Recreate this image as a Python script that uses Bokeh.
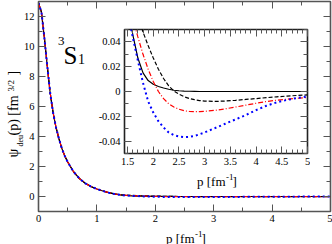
import numpy as np
from bokeh.plotting import figure
from bokeh.models import Range1d, LinearAxis, Label, FixedTicker, CustomJSTickFormatter
from bokeh.embed import file_html
from bokeh.resources import INLINE

# ---------------- data ----------------
p = [0, 0.05, 0.1, 0.15, 0.2, 0.25, 0.3, 0.35, 0.4, 0.45, 0.5, 0.6, 0.7, 0.8, 0.9,
     1.0, 1.1, 1.2, 1.3, 1.4, 1.5, 1.6, 1.7, 1.8, 1.9, 2.0, 2.1, 2.2, 2.3, 2.4, 2.5,
     2.6, 2.7, 2.8, 2.9, 3.0, 3.2, 3.4, 3.6, 3.8, 4.0, 4.2, 4.4, 4.6, 4.8, 5.0]

psi_solid = [12.9, 12.3, 10.6, 8.7, 6.9, 5.6, 4.6, 3.85, 3.2, 2.7, 2.3, 1.65, 1.2, 0.88, 0.66,
             0.5, 0.37, 0.26, 0.17, 0.11, 0.072, 0.046, 0.027, 0.015, 0.0088, 0.0058, 0.004,
             0.0028, 0.0018, 0.001, 0.0006, 0.0003, 0.0002, 0.0001, 0.0, 0.0, 0.0, 0.0, 0.0,
             0.0, 0.0, 0.0, 0.0, 0.0, 0.0, 0.0]

psi_dashed = [12.9, 12.3, 10.6, 8.7, 6.9, 5.6, 4.6, 3.85, 3.2, 2.7, 2.3, 1.65, 1.2, 0.88, 0.66,
              0.5, 0.37, 0.26, 0.17, 0.11, 0.09, 0.078, 0.062, 0.048, 0.037, 0.027, 0.018,
              0.0105, 0.0045, 0.0005, -0.0022, -0.0042, -0.0056, -0.0066, -0.0073, -0.0077,
              -0.008, -0.0077, -0.0071, -0.0064, -0.0057, -0.005, -0.0043, -0.0037, -0.0032,
              -0.0027]

psi_dashdot = [12.9, 12.3, 10.6, 8.7, 6.9, 5.6, 4.6, 3.85, 3.2, 2.7, 2.3, 1.65, 1.2, 0.88, 0.66,
               0.5, 0.37, 0.26, 0.17, 0.11, 0.08, 0.059, 0.044, 0.03, 0.018, 0.008, 0.0,
               -0.0058, -0.0099, -0.0125, -0.0143, -0.0155, -0.0161, -0.0163, -0.0162, -0.016,
               -0.0152, -0.014, -0.0125, -0.011, -0.0095, -0.0081, -0.007, -0.0062, -0.0055,
               -0.0048]

psi_dotted = [12.9, 12.3, 10.6, 8.7, 6.9, 5.6, 4.6, 3.85, 3.2, 2.7, 2.3, 1.65, 1.2, 0.88, 0.66,
              0.5, 0.37, 0.26, 0.17, 0.11, 0.064, 0.044, 0.025, 0.007, -0.008, -0.017, -0.024,
              -0.029, -0.033, -0.0352, -0.0363, -0.0368, -0.0366, -0.0358, -0.0345, -0.033,
              -0.0295, -0.026, -0.0225, -0.019, -0.015, -0.0115, -0.0088, -0.0068, -0.0052,
              -0.004]

main_xticks = [0, 1, 2, 3, 4, 5]
main_yticks = [0, 2, 4, 6, 8, 10, 12]
inset_xticks = [1.5, 2, 2.5, 3, 3.5, 4, 4.5, 5]
inset_yticks = [-0.04, -0.02, 0, 0.02, 0.04]

SERIF = "Liberation Serif"
FRAME = "#555555"

series = [
    (psi_solid, dict(line_color="black", line_width=1.2)),
    (psi_dashed, dict(line_color="black", line_width=1.2, line_dash="4 2")),
    (psi_dashdot, dict(line_color="#ff0000", line_width=1.2, line_dash="5 2 1 2")),
    (psi_dotted, dict(line_color="#0000ff", line_width=2, line_dash="2 3")),
]

fmt = CustomJSTickFormatter(code="return Number(tick.toFixed(3)).toString();")
blank = CustomJSTickFormatter(code="return '';")


def style_axes(fig, xt, xminor, yt, yminor, fsize, standoff_x, standoff_y):
    for ax, ticks, minor, loc in [(fig.xaxis[0], xt, xminor, "x"), (fig.yaxis[0], yt, yminor, "y")]:
        ax.ticker = FixedTicker(ticks=ticks, minor_ticks=minor)
        ax.formatter = fmt
        ax.major_tick_in = 7
        ax.major_tick_out = 0
        ax.minor_tick_in = 4
        ax.minor_tick_out = 0
        ax.axis_line_color = None
        ax.major_tick_line_color = FRAME
        ax.minor_tick_line_color = FRAME
        ax.major_label_text_font = SERIF
        ax.major_label_text_font_size = fsize
        ax.major_label_text_color = "black"
        ax.major_label_standoff = standoff_x if loc == "x" else standoff_y
    for loc, ticks, minor in [("above", xt, xminor), ("right", yt, yminor)]:
        ax = LinearAxis(ticker=FixedTicker(ticks=ticks, minor_ticks=minor), formatter=blank)
        ax.major_tick_in = 7
        ax.major_tick_out = 0
        ax.minor_tick_in = 4
        ax.minor_tick_out = 0
        ax.axis_line_color = None
        ax.major_tick_line_color = FRAME
        ax.minor_tick_line_color = FRAME
        ax.major_label_text_font_size = "1px"
        ax.major_label_standoff = 0
        fig.add_layout(ax, loc)
    fig.grid.visible = False
    fig.outline_line_color = FRAME
    fig.outline_line_width = 1.6


# ---------------- main figure ----------------
main = figure(width=332, height=244, x_range=Range1d(0, 5), y_range=Range1d(-1, 13),
              output_backend="svg", toolbar_location=None,
              min_border_left=38, min_border_right=2, min_border_top=1, min_border_bottom=33,
              styles={"position": "absolute", "left": "0px", "top": "0px"})
style_axes(main, main_xticks, list(np.arange(0, 5.01, 0.5)), main_yticks,
           list(range(-1, 14)), "10.5px", 3, 4)

for ys, kw in series:
    main.line(p, ys, **kw)

# ---------------- inset figure ----------------
inset = figure(width=215, height=162, x_range=Range1d(1.44, 5), y_range=Range1d(-0.05, 0.05),
               output_backend="svg", toolbar_location=None,
               min_border_left=26, min_border_right=3, min_border_top=2, min_border_bottom=36,
               styles={"position": "absolute", "left": "95px", "top": "27px"})
inset.border_fill_color = None
inset.background_fill_color = "white"
style_axes(inset, inset_xticks, list(np.round(np.arange(1.5, 5.001, 0.1), 2)), inset_yticks,
           list(np.round(np.arange(-0.05, 0.0501, 0.01), 3)), "10.5px", 4, 4)
inset.outline_line_color = "#222222"

for ys, kw in series:
    inset.line(p, ys, **kw)

# ---------------- transparent text overlay (page-pixel coordinates) ----------------
overlay = figure(width=332, height=244, x_range=Range1d(0, 332), y_range=Range1d(244, 0),
                 output_backend="svg", toolbar_location=None,
                 x_axis_location=None, y_axis_location=None,
                 min_border_left=0, min_border_right=0, min_border_top=0, min_border_bottom=0,
                 styles={"position": "absolute", "left": "0px", "top": "0px"})
overlay.grid.visible = False
overlay.outline_line_color = None
overlay.background_fill_color = None
overlay.border_fill_color = None


def add_lab(px, py, text, size, angle=0.0):
    overlay.add_layout(Label(x=px, y=py, text=text, text_font=SERIF, text_font_size=size,
                             text_color="black", angle=angle, text_align="left",
                             text_baseline="alphabetic"))


# 3S1 label
add_lab(57.5, 40, "3", "13px")
add_lab(63, 55, "S", "25px")
add_lab(77.5, 58, "1", "14px")

# y-axis label (rotated)
A = np.pi / 2
add_lab(13, 157, "ψ", "14px", A)
add_lab(19.5, 146, "deu", "8px", A)
add_lab(13, 135, "(p) [fm", "14px", A)
add_lab(10, 91, "3/2", "9px", A)
add_lab(13, 75, "]", "14px", A)

# main x-axis label
add_lab(165.5, 237.5, "p [fm", "13px")
add_lab(194.5, 233, "-1", "9px")
add_lab(201, 237.5, "]", "13px")

# inset x-axis label
add_lab(196.5, 181, "p [fm", "13px")
add_lab(225.5, 176.5, "-1", "9px")
add_lab(232, 181, "]", "13px")

open("out.html", "w").write(file_html([main, inset, overlay], INLINE))
